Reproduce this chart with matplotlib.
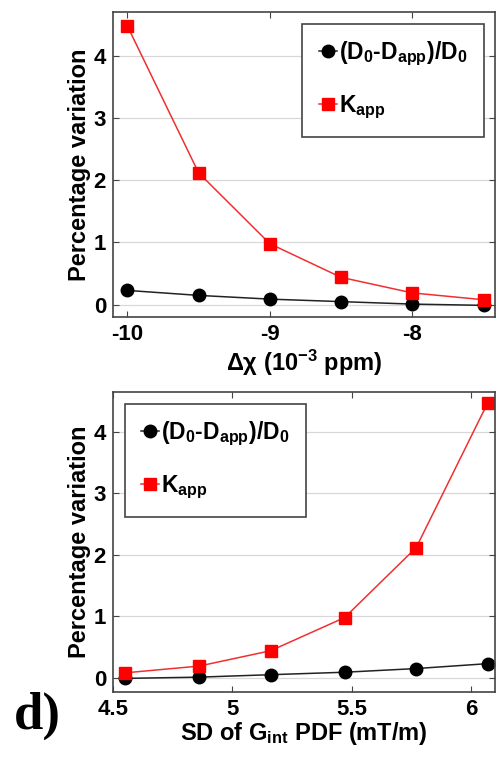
import numpy as np
import matplotlib.pyplot as plt

# top panel: susceptibility difference
dchi = [-10, -9.5, -9, -8.5, -8, -7.5]
dchi_D = [0.23, 0.15, 0.09, 0.05, 0.01, -0.01]
dchi_K = [4.48, 2.12, 0.98, 0.44, 0.19, 0.08]

# bottom panel: SD of internal gradient PDF
sd_g = [4.55, 4.86, 5.16, 5.47, 5.77, 6.07]
sd_D = [-0.01, 0.01, 0.05, 0.09, 0.15, 0.23]
sd_K = [0.08, 0.19, 0.44, 0.98, 2.12, 4.48]

plt.rcParams["font.family"] = ["Liberation Sans", "DejaVu Sans"]
plt.rcParams["font.weight"] = "bold"
plt.rcParams["axes.labelweight"] = "bold"
plt.rcParams["axes.unicode_minus"] = False
plt.rcParams["mathtext.fontset"] = "custom"
plt.rcParams["mathtext.rm"] = "Liberation Sans:bold"
plt.rcParams["mathtext.it"] = "Liberation Sans:bold"
plt.rcParams["mathtext.bf"] = "Liberation Sans:bold"
plt.rcParams["mathtext.default"] = "bf"

fig = plt.figure(figsize=(4.98, 7.57), dpi=100)
ax1 = fig.add_axes([0.227, 0.581, 0.767, 0.403])
ax2 = fig.add_axes([0.227, 0.086, 0.767, 0.396])

lab_D = r"$(D_0$-$D_{app})/D_0$"
lab_K = r"$K_{app}$"


def style(ax):
    ax.grid(axis="y", color="#d8d8d8", lw=0.9)
    ax.set_axisbelow(True)
    ax.tick_params(direction="in", top=True, right=True, labelsize=16,
                   length=4, color="#444444", pad=5)
    for s in ax.spines.values():
        s.set_color("#444444")
        s.set_linewidth(1.2)
    ax.set_ylabel("Percentage variation", fontsize=17, labelpad=2)
    ax.set_yticks([0, 1, 2, 3, 4])


def draw(ax, x, d, k, loc):
    ax.plot(x, d, "-o", color="#222222", mfc="black", mec="black",
            ms=9, lw=1.1, label=lab_D)
    ax.plot(x, k, "-s", color="#f03030", mfc="red", mec="red",
            ms=8, lw=1.1, label=lab_K)
    leg = ax.legend(loc=loc, fontsize=16.5, handlelength=0.8, handletextpad=0.1,
                    labelspacing=1.1, borderpad=0.7, borderaxespad=0.5,
                    fancybox=False, framealpha=1, edgecolor="#444444")
    leg.get_frame().set_linewidth(1.2)


draw(ax1, dchi, dchi_D, dchi_K, "upper right")
style(ax1)
ax1.set_xlim(-10.1, -7.42)
ax1.set_ylim(-0.2, 4.7)
ax1.set_xticks([-10, -9, -8])
ax1.set_xlabel(r"$\Delta\chi$ (10$^{-3}$ ppm)", fontsize=17, labelpad=2)

draw(ax2, sd_g, sd_D, sd_K, "upper left")
style(ax2)
ax2.set_xlim(4.5, 6.1)
ax2.set_ylim(-0.23, 4.65)
ax2.set_xticks([4.5, 5, 5.5, 6])
ax2.set_xticklabels(["4.5", "5", "5.5", "6"])
ax2.set_xlabel(r"SD of G$_{int}$ PDF (mT/m)", fontsize=17, labelpad=0)

fig.text(0.075, 0.055, "d)", fontsize=38, fontweight="bold",
         family=["Liberation Serif"], ha="center", va="center")

fig.savefig("out.png", dpi=100)
